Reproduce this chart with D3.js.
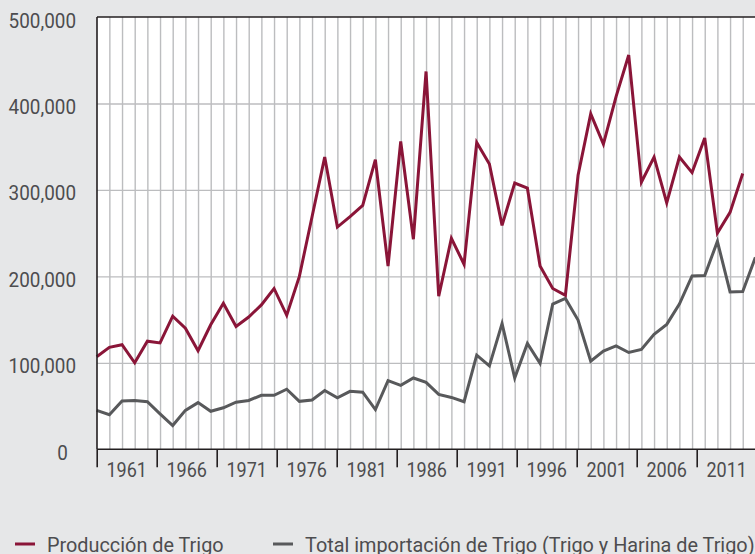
<!DOCTYPE html>
<html><head><meta charset="utf-8">
<script src="https://cdn.jsdelivr.net/npm/d3@7/dist/d3.min.js"></script>
<style>
html,body{margin:0;padding:0;background:#e6e7e8;}
svg{display:block;}
text{font-family:"Roboto","Liberation Sans",sans-serif;fill:#4d4d4f;}
</style></head>
<body><svg id="c" width="755" height="554"></svg>
<script>
const years = [1961,1962,1963,1964,1965,1966,1967,1968,1969,1970,1971,1972,1973,1974,1975,1976,1977,1978,1979,1980,
  1981,1982,1983,1984,1985,1986,1987,1988,1989,1990,1991,1992,1993,1994,1995,1996,1997,1998,1999,2000,
  2001,2002,2003,2004,2005,2006,2007,2008,2009,2010,2011,2012,2013];
const produccion = [107000,118000,121000,100000,125000,123000,154000,140000,114000,144000,
  169000,142000,153000,167000,186000,155000,200000,269000,338000,257000,
  269000,282000,335000,212000,356000,243000,437000,177000,244000,214000,
  355000,330000,259000,308000,302000,212000,186000,178000,317000,388000,
  353000,408000,456000,309000,338000,285000,338000,320000,360000,250000,
  274000,319000,null];
const importacion = [45000,40000,56000,56500,55000,41000,27500,45000,54000,44000,
  48000,54500,56500,62500,62500,69500,55500,57000,68000,59500,
  67000,66000,46000,79500,74000,82500,77500,63500,60000,55000,
  109000,96500,145500,82500,122500,99500,168000,174500,149500,102000,
  113500,119500,112000,115500,133000,144500,168000,200500,201000,240500,
  182000,182500,222000];
const labelYears = [1961,1966,1971,1976,1981,1986,1991,1996,2001,2006,2011];
const yTicks = [0,100000,200000,300000,400000,500000];
const seriesNames = ["Producción de Trigo","Total importación de Trigo (Trigo y Harina de Trigo)"];
const seriesColors = ["#8a1538","#58595b"];

const svg = d3.select("#c");
const W = 755, H = 554;
const L = 97, T = 17, B = 449.3, R = 755;
svg.append("rect").attr("width",W).attr("height",H).attr("fill","#e6e7e8");
svg.append("rect").attr("x",L).attr("y",T).attr("width",R-L).attr("height",B-T).attr("fill","#ffffff");

const x = d3.scaleLinear().domain([1961,2013]).range([96.7,755.4]);
const xLab = d3.scaleLinear().domain([1961,2016]).range([96.7,756.7]);
const y = d3.scaleLinear().domain([0,500000]).range([B,T]);

const vg = svg.append("g").attr("transform",`translate(0,${B})`)
  .call(d3.axisBottom(x).tickValues(years.slice(1)).tickSize(-(B-T)).tickFormat(""));
vg.select(".domain").remove();
vg.selectAll("line").attr("stroke","#bcbdbf").attr("stroke-width",1.4);
const hg = svg.append("g").attr("transform",`translate(${L},0)`)
  .call(d3.axisLeft(y).tickValues(yTicks.slice(1,5)).tickSize(-(R-L)).tickFormat(""));
hg.select(".domain").remove();
hg.selectAll("line").attr("stroke","#bcbdbf").attr("stroke-width",1.4);

const mk = vals => d3.line().defined(d=>d[1]!=null).x(d=>x(d[0])).y(d=>y(d[1]))(years.map((yr,i)=>[yr,vals[i]]));
svg.append("path").attr("d",mk(importacion)).attr("fill","none").attr("stroke",seriesColors[1]).attr("stroke-width",3).attr("stroke-linejoin","miter");
svg.append("path").attr("d",mk(produccion)).attr("fill","none").attr("stroke",seriesColors[0]).attr("stroke-width",3).attr("stroke-linejoin","miter");

svg.append("line").attr("x1",L).attr("x2",R).attr("y1",T).attr("y2",T).attr("stroke","#231f20").attr("stroke-width",1.6);
svg.append("line").attr("x1",L).attr("x2",L).attr("y1",T).attr("y2",B).attr("stroke","#231f20").attr("stroke-width",1.6);

const bx = svg.append("g").attr("transform",`translate(0,${B})`)
  .call(d3.axisBottom(xLab).tickValues(labelYears).tickSize(18).tickFormat(""));
bx.select(".domain").attr("d",`M${L},0H${R}`).attr("stroke","#231f20").attr("stroke-width",1.6);
bx.selectAll("line").attr("stroke","#231f20").attr("stroke-width",1.6);

function txt(g, tx, ty, s, anchor, size, sx){
  return g.append("text").attr("transform",`translate(${tx},${ty}) scale(${sx},1)`)
    .attr("text-anchor",anchor).attr("font-size",size).text(s);
}
const xl = svg.append("g");
labelYears.forEach(d=>txt(xl, xLab(d+2.5), 477, d, "middle", 21, 0.86));

const fmt = d3.format(",");
const yl = svg.append("g");
yTicks.forEach(d=>txt(yl, d===0?68:76, y(d)+10.5, fmt(d), "end", 21, 0.9));

const leg = [{x:15,tx:47},{x:273,tx:305}];
leg.forEach((p,i)=>{
  svg.append("line").attr("x1",p.x).attr("x2",p.x+20).attr("y1",544).attr("y2",544)
    .attr("stroke",seriesColors[i]).attr("stroke-width",3);
  txt(svg, p.tx, 551.5, seriesNames[i], "start", 21, 0.945);
});
</script></body></html>
